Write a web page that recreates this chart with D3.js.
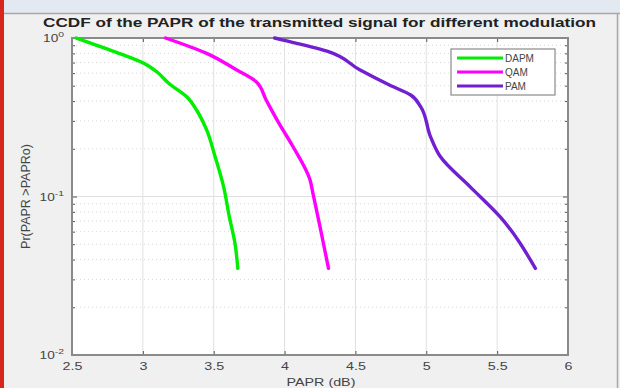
<!DOCTYPE html>
<html><head><meta charset="utf-8">
<script src="https://cdn.jsdelivr.net/npm/d3@7/dist/d3.min.js"></script>
<style>body{margin:0;background:#f0f0f0;}svg{display:block;font-family:Arial,"Liberation Sans",sans-serif;}</style>
</head><body><svg id="c" width="620" height="388"></svg>
<script>
const seriesNames = ["DAPM", "QAM", "PAM"];
const seriesColors = ["#00ee00", "#ff00ff", "#7020d0"];
const dapmX = [2.53, 2.80, 3.01, 3.10, 3.18, 3.32, 3.38, 3.45, 3.51, 3.57, 3.61, 3.65, 3.67];
const dapmY = [1.0, 0.82, 0.69, 0.61, 0.52, 0.417, 0.35, 0.263, 0.178, 0.115, 0.0746, 0.0507, 0.0352];
const qamX = [3.16, 3.45, 3.66, 3.80, 3.87, 3.96, 4.06, 4.18, 4.20, 4.25, 4.31];
const qamY = [1.0, 0.80, 0.63, 0.53, 0.406, 0.29, 0.206, 0.127, 0.105, 0.0645, 0.0352];
const pamX = [3.93, 3.99, 4.31, 4.53, 4.74, 4.89, 4.96, 5.03, 5.10, 5.31, 5.52, 5.77];
const pamY = [1.0, 0.97, 0.82, 0.63, 0.505, 0.437, 0.369, 0.238, 0.178, 0.115, 0.0746, 0.0352];
const xTicks = [2.5, 3, 3.5, 4, 4.5, 5, 5.5, 6];
const xTickLabels = ["2.5", "3", "3.5", "4", "4.5", "5", "5.5", "6"];
const yTicks = [1, 0.1, 0.01];
const yExps = ["0", "-1", "-2"];
const titleText = "CCDF of the PAPR of the transmitted signal for different modulation";
const xLabel = "PAPR (dB)";
const yLabel = "Pr(PAPR >PAPRo)";

const series = [
  {name: seriesNames[0], color: seriesColors[0], xs: dapmX, ys: dapmY},
  {name: seriesNames[1], color: seriesColors[1], xs: qamX, ys: qamY},
  {name: seriesNames[2], color: seriesColors[2], xs: pamX, ys: pamY}
];

const SX = 1.3;
const svg = d3.select("#c");
svg.append("rect").attr("x",0).attr("y",0).attr("width",620).attr("height",388).attr("fill","#f0f0f0");
svg.append("rect").attr("x",0).attr("y",0).attr("width",620).attr("height",13).attr("fill","#e3e9f0");
svg.append("line").attr("x1",0).attr("x2",620).attr("y1",13.5).attr("y2",13.5).attr("stroke","#a8a8a8").attr("stroke-width",1.5);
svg.append("rect").attr("x",0).attr("y",0).attr("width",4).attr("height",388).attr("fill","#d8261c");
svg.append("line").attr("x1",617.5).attr("x2",617.5).attr("y1",13).attr("y2",388).attr("stroke","#a8a8a8").attr("stroke-width",1.5);

const L = 72, R = 568, T = 38, B = 355;
const x = d3.scaleLinear().domain([2.5, 6]).range([L, R]);
const y = d3.scaleLog().domain([0.01, 1]).range([B, T]);

svg.append("rect").attr("x",L).attr("y",T).attr("width",R-L).attr("height",B-T).attr("fill","#fff");

const g = svg.append("g");
const minors = [];
[0.01, 0.1].forEach(d => { for (let k = 2; k <= 9; k++) minors.push(d*k); });
g.selectAll(".ming").data(minors).join("line")
  .attr("x1",L).attr("x2",R).attr("y1",d=>y(d)).attr("y2",d=>y(d))
  .attr("stroke","#d8d8d8").attr("stroke-width",1).attr("stroke-dasharray","1,3");
g.selectAll(".vg").data(xTicks).join("line")
  .attr("x1",d=>x(d)).attr("x2",d=>x(d)).attr("y1",T).attr("y2",B)
  .attr("stroke","#e0e0e0").attr("stroke-width",1);
g.selectAll(".hg").data(yTicks).join("line")
  .attr("x1",L).attr("x2",R).attr("y1",d=>y(d)).attr("y2",d=>y(d))
  .attr("stroke","#e0e0e0").attr("stroke-width",1);

const xAxB = d3.axisBottom(x).tickValues(xTicks).tickSize(-4).tickFormat((d,i)=>xTickLabels[i]).tickPadding(7);
const ax = svg.append("g").attr("transform",`translate(0,${B})`).call(xAxB);
ax.select(".domain").remove();
ax.selectAll("line").attr("stroke","#555");
ax.selectAll("text").attr("fill","#444").attr("font-size",11).attr("transform",`scale(${SX},1)`);
const xAxT = d3.axisTop(x).tickValues(xTicks).tickSize(-4).tickFormat("");
const axT = svg.append("g").attr("transform",`translate(0,${T})`).call(xAxT);
axT.select(".domain").remove();
axT.selectAll("line").attr("stroke","#555");

const yAll = yTicks.concat(minors);
const yAxL = d3.axisLeft(y).tickValues(yAll).tickSize(-3).tickFormat("");
const ayl = svg.append("g").attr("transform",`translate(${L},0)`).call(yAxL);
ayl.select(".domain").remove();
ayl.selectAll("line").attr("stroke","#555");
const yAxR = d3.axisRight(y).tickValues(yAll).tickSize(-3).tickFormat("");
const ayr = svg.append("g").attr("transform",`translate(${R},0)`).call(yAxR);
ayr.select(".domain").remove();
ayr.selectAll("line").attr("stroke","#555");
ayl.selectAll("line").filter(d=>yTicks.includes(d)).attr("x2",5);
ayr.selectAll("line").filter(d=>yTicks.includes(d)).attr("x2",-5);

const ylg = svg.append("g").selectAll("g").data(yTicks).join("g")
  .attr("transform", d=>`translate(${L-8},${y(d)+4}) scale(${SX},1)`);
const yl = ylg.append("text").attr("text-anchor","end").attr("fill","#444").attr("font-size",10.5);
yl.append("tspan").text("10");
yl.append("tspan").attr("dy",-5).attr("font-size",8).text((d,i)=>yExps[i]);

svg.append("rect").attr("x",L).attr("y",T).attr("width",R-L).attr("height",B-T)
  .attr("fill","none").attr("stroke","#8a8a8a").attr("stroke-width",2);

const line = d3.line().x(d=>x(d[0])).y(d=>y(d[1])).curve(d3.curveMonotoneY);
svg.append("g").selectAll("path").data(series).join("path")
  .attr("d", s => line(s.xs.map((v,i)=>[v, s.ys[i]])))
  .attr("fill","none").attr("stroke",s=>s.color).attr("stroke-width",3.4)
  .attr("stroke-linejoin","round").attr("stroke-linecap","round");

const lg = svg.append("g").attr("transform","translate(451,49)");
lg.append("rect").attr("width",104).attr("height",46).attr("fill","#fff").attr("stroke","#8a8a8a").attr("stroke-width",1.2);
series.forEach((s,i)=>{
  const yy = 9 + i*14;
  lg.append("line").attr("x1",6).attr("x2",52).attr("y1",yy).attr("y2",yy).attr("stroke",s.color).attr("stroke-width",3);
  lg.append("text").attr("x",54).attr("y",yy+4).attr("font-size",10).attr("fill","#444").text(s.name);
});

svg.append("text").attr("x",43).attr("y",27)
  .attr("textLength",553).attr("lengthAdjust","spacingAndGlyphs")
  .attr("font-weight","bold").attr("font-size",13.5).attr("fill","#222").text(titleText);
svg.append("g").attr("transform",`translate(${(L+R)/2+1},385.5) scale(${SX},1)`)
  .append("text").attr("text-anchor","middle")
  .attr("font-size",11).attr("fill","#444").text(xLabel);
svg.append("text").attr("transform",`translate(30,${(T+B)/2}) rotate(-90)`).attr("text-anchor","middle")
  .attr("font-size",12.5).attr("fill","#444").text(yLabel);
</script></body></html>
